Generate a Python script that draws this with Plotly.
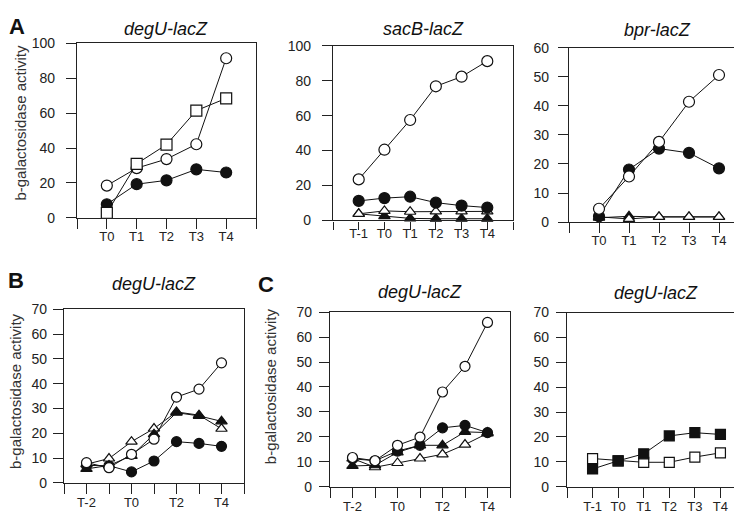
import plotly.graph_objects as go

# time points (T0 = 0)
t_a1 = [0, 1, 2, 3, 4]
t_a2 = [-1, 0, 1, 2, 3, 4]
t_a3 = [0, 1, 2, 3, 4]
t_b = [-2, -1, 0, 1, 2, 3, 4]
t_c1 = [-2, -1, 0, 1, 2, 3, 4]
t_c2 = [-1, 0, 1, 2, 3, 4]

# panel A, degU-lacZ
a1_filled_circle = [7.8, 19.3, 21.5, 27.8, 26.0]
a1_open_circle = [18.5, 28.5, 33.7, 42.2, 91.5]
a1_open_square = [2.8, 31.0, 42.0, 61.5, 68.5]

# panel A, sacB-lacZ
a2_open_circle = [23.5, 40.5, 57.5, 76.8, 82.3, 91.2]
a2_filled_circle = [11.2, 12.8, 13.6, 10.2, 8.5, 7.4]
a2_filled_triangle = [3.8, 2.5, 1.2, 1.0, 1.0, 1.0]
a2_open_triangle = [3.8, 5.5, 5.0, 5.2, 5.2, 5.2]

# panel A, bpr-lacZ
a3_filled_circle = [2.0, 18.1, 25.3, 23.8, 18.5]
a3_open_circle = [4.6, 15.7, 27.6, 41.4, 50.6]
a3_filled_triangle = [1.5, 2.0, 1.8, 1.8, 1.8]
a3_open_triangle = [1.8, 1.1, 1.8, 1.8, 1.8]

# panel B, degU-lacZ
b_filled_circle = [7.0, 6.9, 4.4, 8.8, 16.6, 15.9, 14.7]
b_open_triangle = [7.5, 9.8, 16.6, 21.9, 28.6, 27.3, 21.8]
b_filled_triangle = [5.6, 7.0, 10.9, 19.6, 28.3, 27.0, 24.8]
b_open_circle = [8.1, 6.1, 11.5, 17.6, 34.6, 37.8, 48.4]

# panel C, degU-lacZ (left)
c1_open_triangle = [11.3, 7.8, 9.5, 11.3, 13.0, 16.9, 21.4]
c1_filled_triangle = [8.3, 8.6, 13.8, 16.6, 16.6, 22.0, 21.7]
c1_filled_circle = [11.2, 10.4, 14.3, 16.6, 23.6, 24.6, 21.7]
c1_open_circle = [11.7, 10.4, 16.6, 19.9, 38.0, 48.3, 65.9]

# panel C, degU-lacZ (right)
c2_filled_square = [7.1, 10.4, 13.2, 20.4, 21.7, 21.0]
c2_open_square = [11.3, 10.4, 9.8, 9.8, 11.9, 13.6]

W, H = 742, 517
FONT = "Liberation Sans, Arial, sans-serif"

fig = go.Figure()


def add(ax, x, y, symbol, filled, size=11):
    fig.add_trace(go.Scatter(
        x=x, y=y, mode="lines+markers", xaxis="x" + ax, yaxis="y" + ax,
        line=dict(color="#111", width=1),
        marker=dict(symbol=symbol, size=size, color="#111" if filled else "white",
                    line=dict(color="#111", width=1.2)),
        showlegend=False, cliponaxis=False))


# panel boxes in pixels: left, right, top, bottom, ymax, dtick, xrange,
# labelled ticks, x tick length, x label offset, y label offset
panels = {
    "": (69, 248, 28.3, 208.3, 100, 20, (-1, 5), [0, 1, 2, 3, 4], 10, -4, 8),
    "2": (325, 505, 30.7, 211, 100, 20, (-2, 5), [-1, 0, 1, 2, 3, 4], 8, -7, 8),
    "3": (561, 741, 32.7, 212.7, 60, 10, (-1, 5), [0, 1, 2, 3, 4], 10, -4, 6),
    "4": (56, 236, 302.7, 481.7, 70, 10, (-3, 5), [-2, 0, 2, 4], 10, -3, 3),
    "5": (322, 502, 305.7, 485.7, 70, 10, (-3, 5), [-2, 0, 2, 4], 10, -2, 4),
    "6": (559, 738, 306, 485.7, 70, 10, (-2, 5), [-1, 0, 1, 2, 3, 4], 10, -2, 4),
}

add("", t_a1, a1_filled_circle, "circle", True)
add("", t_a1, a1_open_circle, "circle", False)
add("", t_a1, a1_open_square, "square", False)

add("2", t_a2, a2_filled_triangle, "triangle-up", True, 10)
add("2", t_a2, a2_open_triangle, "triangle-up", False, 10)
add("2", t_a2, a2_filled_circle, "circle", True)
add("2", t_a2, a2_open_circle, "circle", False)

add("3", t_a3, a3_filled_triangle, "triangle-up", True, 10)
add("3", t_a3, a3_open_triangle, "triangle-up", False, 10)
add("3", t_a3, a3_filled_circle, "circle", True)
add("3", t_a3, a3_open_circle, "circle", False)

add("4", t_b, b_filled_circle, "circle", True, 10)
add("4", t_b, b_open_triangle, "triangle-up", False, 10)
add("4", t_b, b_filled_triangle, "triangle-up", True, 10)
add("4", t_b, b_open_circle, "circle", False, 10)

add("5", t_c1, c1_open_triangle, "triangle-up", False, 10)
add("5", t_c1, c1_filled_triangle, "triangle-up", True, 10)
add("5", t_c1, c1_filled_circle, "circle", True, 10)
add("5", t_c1, c1_open_circle, "circle", False, 10)

add("6", t_c2, c2_open_square, "square", False, 10)
add("6", t_c2, c2_filled_square, "square", True, 10)

layout = {}
for key, (l, r, t, b, ymax, dy, xr, labelled, xl, xo, yo) in panels.items():
    ticks_x = list(range(xr[0], xr[1] + 1))
    text_x = ["T%d" % v if v in labelled else "" for v in ticks_x]
    layout["xaxis" + key] = dict(
        domain=[l / W, r / W], anchor="y" + key, range=list(xr),
        tickvals=ticks_x, ticktext=text_x, ticks="outside", ticklen=xl,
        tickwidth=1.3, tickcolor="#222", showline=True, linecolor="#222",
        linewidth=1.3, mirror=True, showgrid=False, zeroline=False,
        tickfont=dict(size=13, color="#222"), ticklabelstandoff=xo)
    layout["yaxis" + key] = dict(
        domain=[1 - b / H, 1 - t / H], anchor="x" + key, range=[0, ymax],
        dtick=dy, ticks="outside", ticklen=10, tickwidth=1.3, tickcolor="#222",
        showline=True, linecolor="#222", linewidth=1.3, mirror=True,
        showgrid=False, zeroline=False, tickfont=dict(size=14, color="#222"),
        ticklabelstandoff=yo)

fig.update_layout(**layout)

ann = []
titles = [("degU-lacZ", 158, 13), ("sacB-lacZ", 415, 13), ("bpr-lacZ", 649, 14),
          ("degU-lacZ", 146, 277), ("degU-lacZ", 412, 285), ("degU-lacZ", 648, 286)]
for txt, x, y in titles:
    ann.append(dict(text="<i>%s</i>" % txt, x=x / W, y=1 - y / H, xref="paper",
                    yref="paper", showarrow=False, xanchor="center", yanchor="middle",
                    font=dict(size=18, color="#111")))
for txt, x, y in [("A", 9, 11), ("B", 8, 273), ("C", 258, 277)]:
    ann.append(dict(text="<b>%s</b>" % txt, x=x / W, y=1 - y / H, xref="paper",
                    yref="paper", showarrow=False, xanchor="center", yanchor="middle",
                    font=dict(size=22, color="#111")))
for x, y in [(13, 110), (7, 387), (262, 382)]:
    ann.append(dict(text="b-galactosidase activity", x=x / W, y=1 - y / H,
                    xref="paper", yref="paper", showarrow=False, textangle=-90,
                    xanchor="center", yanchor="middle",
                    font=dict(size=15, color="#333")))

fig.update_layout(
    width=W, height=H, margin=dict(l=0, r=0, t=0, b=0),
    paper_bgcolor="white", plot_bgcolor="white",
    font=dict(family=FONT, color="#222"), annotations=ann)

fig.write_html("out.html")
